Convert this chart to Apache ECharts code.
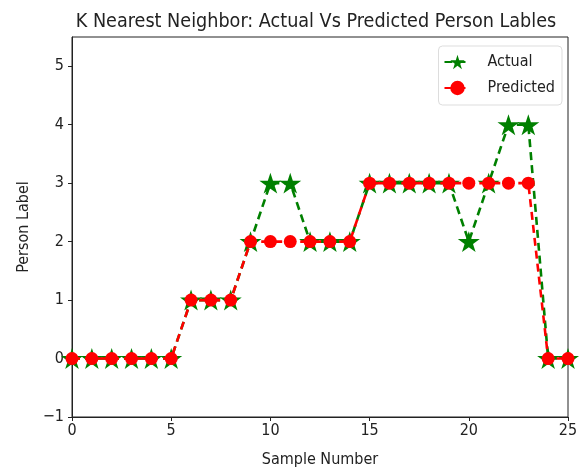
<!DOCTYPE html>
<html>
<head>
<meta charset="utf-8">
<script src="https://cdn.jsdelivr.net/npm/echarts@6/dist/echarts.min.js"></script>
<style>html,body{margin:0;padding:0;background:#fff}#c{width:581px;height:473px}</style>
</head>
<body>
<div id="c"></div>
<script>
const samples = [0,1,2,3,4,5,6,7,8,9,10,11,12,13,14,15,16,17,18,19,20,21,22,23,24,25];
const actual =    [0,0,0,0,0,0,1,1,1,2,3,3,2,2,2,3,3,3,3,3,2,3,4,4,0,0];
const predicted = [0,0,0,0,0,0,1,1,1,2,2,2,2,2,2,3,3,3,3,3,3,3,3,3,0,0];
const xTicks = [0,5,10,15,20,25];
const yTicks = [-1,0,1,2,3,4,5];

const font = "'DejaVu Sans Condensed', 'DejaVu Sans'";
const chart = echarts.init(document.getElementById('c'), null, {renderer:'canvas'});
const pair = (xs, ys) => xs.map((x,i)=>[x, ys[i]]);
const starPath = 'path://M50,0 L61.8,36.2 L100,36.2 L69.1,58.8 L80.9,95.1 L50,72.7 L19.1,95.1 L30.9,58.8 L0,36.2 L38.2,36.2 Z';
chart.setOption({
  animation: false,
  backgroundColor: '#fff',
  title: {
    text: 'K Nearest Neighbor: Actual Vs Predicted Person Lables',
    left: 311, top: 7, textAlign: 'center',
    textStyle: {fontFamily: font, fontSize: 19.6, fontWeight: 'normal', color: '#222'}
  },
  grid: {left: 72, right: 13, top: 37, bottom: 54, show: true, borderColor: '#222', borderWidth: 1},
  legend: {
    orient: 'vertical', right: 19, top: 46,
    padding: [7, 7, 8, 5],
    itemWidth: 26, itemHeight: 18, itemGap: 8,
    borderColor: '#ddd', borderWidth: 1, borderRadius: 4,
    textStyle: {fontFamily: font, fontSize: 16, color: '#222', padding: [0,0,0,12], lineHeight: 18},
    data: ['Actual', 'Predicted']
  },
  xAxis: {
    type: 'value', min: 0, max: 25, interval: 5,
    name: 'Sample Number', nameLocation: 'middle', nameGap: 35,
    nameTextStyle: {fontFamily: font, fontSize: 16, color: '#222'},
    axisLine: {show: true, onZero: false, lineStyle: {color: '#222', width: 1}},
    axisTick: {show: true, inside: false, length: 4, lineStyle: {color: '#222'}},
    axisLabel: {fontFamily: font, fontSize: 16, color: '#222', margin: 6,
      formatter: v => xTicks.includes(v) ? String(v) : ''},
    splitLine: {show: false}
  },
  yAxis: {
    type: 'value', min: -1, max: 5.5, interval: 1,
    name: 'Person Label', nameLocation: 'middle', nameGap: 39, nameRotate: 90,
    nameTextStyle: {fontFamily: font, fontSize: 16, color: '#222'},
    axisLine: {show: true, onZero: false, lineStyle: {color: '#222', width: 1}},
    axisTick: {show: true, inside: false, length: 4, lineStyle: {color: '#222'}},
    axisLabel: {fontFamily: font, fontSize: 16, color: '#222', margin: 8, showMaxLabel: false,
      formatter: v => yTicks.includes(v) ? (v < 0 ? '\u2212' + Math.abs(v) : String(v)) : ''},
    splitLine: {show: false}
  },
  series: [
    {
      name: 'Actual', type: 'line', data: pair(samples, actual),
      symbol: starPath, symbolSize: 22, symbolKeepAspect: true,
      lineStyle: {color: '#008000', width: 2.6, type: [8, 5]},
      itemStyle: {color: '#008000'},
      z: 2
    },
    {
      name: 'Predicted', type: 'line', data: pair(samples, predicted),
      symbol: 'circle', symbolSize: 13,
      lineStyle: {color: '#ff0000', width: 2.6, type: [8, 5]},
      itemStyle: {color: '#ff0000'},
      z: 3
    }
  ]
});
</script>
</body>
</html>
